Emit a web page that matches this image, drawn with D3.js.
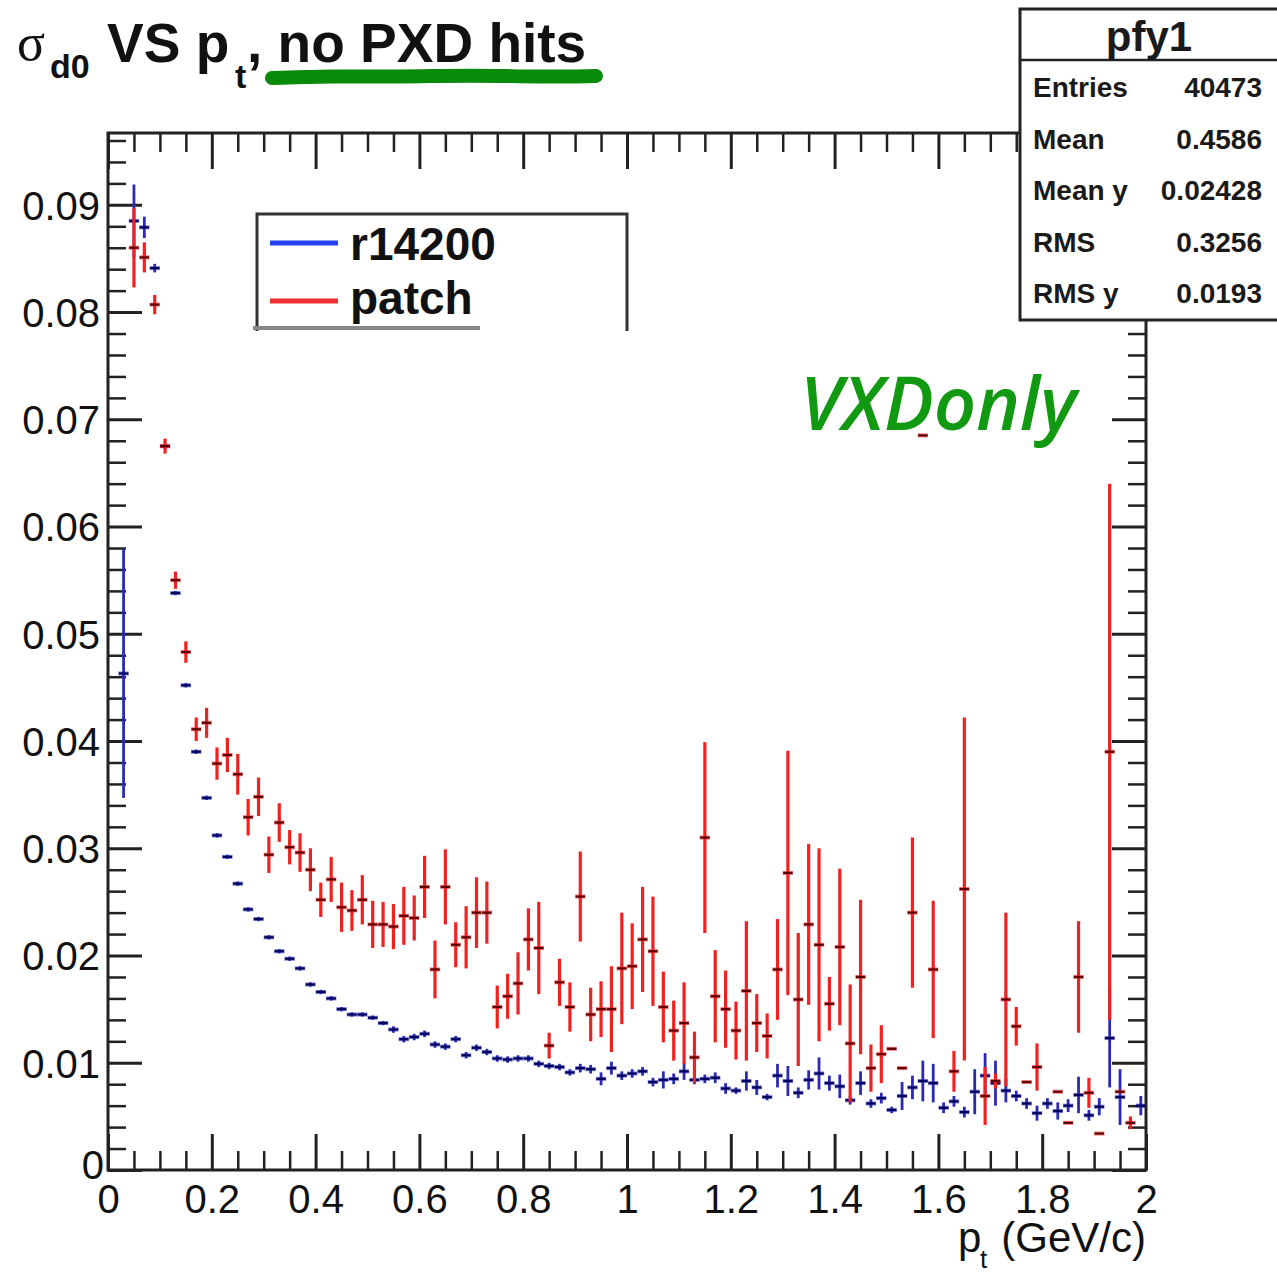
<!DOCTYPE html>
<html lang="en">

<head>
    <meta charset="utf-8">
    <title>sigma d0 vs pt</title>
    <script type="text/javascript" src="https://d3js.org/d3.v7.min.js"></script>
    <style>
        body { margin: 0; background: #fff; }
        svg { display: block; }
        .axis text { font-family: "Liberation Sans", Arial, sans-serif; font-size: 40px; fill: #111; }
        .axis line, .axis path { stroke: #222; }
    </style>
</head>

<body>
    <div id="container"></div>
    <script type="text/javascript">
        var w = 1277;
        var h = 1272;

        // binning of the profile: 100 bins of 0.02 GeV/c from 0 to 2
        var binLow = 0, binWidth = 0.02;

        // r14200 (blue) : bin means and errors, null = empty bin
        var blueMean = [null, 0.0463, 0.0885, 0.0879, 0.0841, 0.0675, 0.0538, 0.0452, 0.0390, 0.0347,
            0.0312, 0.0292, 0.0267, 0.0243, 0.0234, 0.0217, 0.0204, 0.0197, 0.0188, 0.0173,
            0.0166, 0.0160, 0.0150, 0.0145, 0.0145, 0.0142, 0.0137, 0.0131, 0.0122, 0.0124,
            0.0127, 0.0117, 0.0115, 0.0122, 0.0107, 0.0114, 0.0110, 0.0104, 0.0103, 0.0104,
            0.0104, 0.0099, 0.0097, 0.0096, 0.0091, 0.0095, 0.0094, 0.0085, 0.0095, 0.0088,
            0.0090, 0.0092, 0.0082, 0.0084, 0.0085, 0.0092, 0.0084, 0.0085, 0.0086, 0.0076,
            0.0074, 0.0083, 0.0077, 0.0068, 0.0088, 0.0083, 0.0072, 0.0084, 0.0090, 0.0081,
            0.0078, 0.0065, 0.0081, 0.0062, 0.0067, 0.0056, 0.0069, 0.0077, 0.0083, 0.0081,
            0.0058, 0.0064, 0.0054, 0.0073, 0.0088, 0.0081, 0.0074, 0.0069, 0.0062, 0.0053,
            0.0062, 0.0055, 0.0060, 0.0070, 0.0051, 0.0059, 0.0123, 0.0068, null, 0.0060];
        var blueErr = [0, 0.0116, 0.0034, 0.0010, 0.0004, 0.0003, 0.0002, 0.0002, 0.0002, 0.0002,
            0.0002, 0.0002, 0.0002, 0.0002, 0.0002, 0.0002, 0.0002, 0.0002, 0.0002, 0.0002,
            0.0002, 0.0002, 0.0002, 0.0002, 0.0002, 0.0002, 0.0002, 0.0003, 0.0003, 0.0003,
            0.0003, 0.0003, 0.0003, 0.0003, 0.0003, 0.0003, 0.0003, 0.0003, 0.0003, 0.0003,
            0.0003, 0.0003, 0.0003, 0.0003, 0.0003, 0.0004, 0.0004, 0.0006, 0.0006, 0.0004,
            0.0004, 0.0004, 0.0004, 0.0008, 0.0005, 0.0008, 0.0004, 0.0004, 0.0005, 0.0005,
            0.0003, 0.0009, 0.0007, 0.0003, 0.0011, 0.0014, 0.0005, 0.0009, 0.0015, 0.0007,
            0.0011, 0.0004, 0.0011, 0.0004, 0.0005, 0.0003, 0.0013, 0.0011, 0.0019, 0.0018,
            0.0005, 0.0005, 0.0005, 0.0021, 0.0021, 0.0021, 0.0011, 0.0005, 0.0005, 0.0007,
            0.0005, 0.0008, 0.0006, 0.0017, 0.0005, 0.0008, 0.0046, 0.0026, 0, 0.0009];

        // patch (red)
        var redMean = [null, null, 0.0860, 0.0851, 0.0807, 0.0675, 0.0550, 0.0483, 0.0411, 0.0417,
            0.0379, 0.0387, 0.0369, 0.0329, 0.0348, 0.0294, 0.0324, 0.0301, 0.0296, 0.0280,
            0.0252, 0.0271, 0.0245, 0.0242, 0.0252, 0.0229, 0.0229, 0.0227, 0.0237, 0.0235,
            0.0264, 0.0187, 0.0264, 0.0210, 0.0217, 0.0240, 0.0240, 0.0152, 0.0162, 0.0174,
            0.0215, 0.0207, 0.0116, 0.0175, 0.0152, 0.0255, 0.0145, 0.0150, 0.0150, 0.0188,
            0.0190, 0.0215, 0.0204, 0.0152, 0.0130, 0.0137, 0.0105, 0.0310, 0.0162, 0.0150,
            0.0130, 0.0167, 0.0137, 0.0125, 0.0187, 0.0277, 0.0159, 0.0229, 0.0210, 0.0155,
            0.0208, 0.0118, 0.0180, 0.0095, 0.0108, 0.0113, 0.0095, 0.0240, 0.0685, 0.0187,
            null, 0.0092, 0.0262, null, 0.0069, 0.0083, 0.0159, 0.0134, 0.0082, 0.0096,
            null, 0.0073, 0.0044, 0.0180, 0.0072, 0.0034, 0.0390, 0.0073, 0.0044, null];
        var redErr = [0, 0, 0.0037, 0.0014, 0.0009, 0.0007, 0.0008, 0.0010, 0.0011, 0.0014,
            0.0015, 0.0016, 0.0019, 0.0017, 0.0018, 0.0017, 0.0018, 0.0016, 0.0018, 0.0020,
            0.0016, 0.0021, 0.0023, 0.0019, 0.0023, 0.0022, 0.0021, 0.0021, 0.0027, 0.0021,
            0.0029, 0.0027, 0.0035, 0.0021, 0.0029, 0.0033, 0.0029, 0.0020, 0.0021, 0.0029,
            0.0029, 0.0043, 0.0012, 0.0022, 0.0023, 0.0042, 0.0025, 0.0026, 0.0040, 0.0052,
            0.0040, 0.0049, 0.0051, 0.0033, 0.0028, 0.0038, 0.0024, 0.0089, 0.0043, 0.0036,
            0.0027, 0.0065, 0.0027, 0.0021, 0.0047, 0.0114, 0.0062, 0.0075, 0.0090, 0.0025,
            0.0073, 0.0055, 0.0072, 0.0022, 0.0027, 0, 0, 0.0070, 0, 0.0064,
            0, 0.0019, 0.0160, 0, 0.0027, 0.0007, 0.0081, 0.0018, 0, 0.0022,
            0, 0, 0, 0.0052, 0.0014, 0, 0.0250, 0, 0.0006, 0];

        var seriesNames = ["r14200", "patch"];
        var xTicksMajor = [0, 0.2, 0.4, 0.6, 0.8, 1, 1.2, 1.4, 1.6, 1.8, 2];
        var yTicksMajor = [0, 0.01, 0.02, 0.03, 0.04, 0.05, 0.06, 0.07, 0.08, 0.09];
        var statsLabels = ["Entries", "Mean", "Mean y", "RMS", "RMS y"];
        var statsValues = ["40473", "0.4586", "0.02428", "0.3256", "0.0193"];

        const svg = d3.select("div#container")
            .append("svg")
            .attr("width", w)
            .attr("height", h)
            .style("background-color", "#fff");

        // plot frame in pixels
        var fLeft = 108, fRight = 1146, fTop = 133, fBottom = 1170;
        var x = d3.scaleLinear().domain([0, 2]).range([fLeft, fRight]);
        var y = d3.scaleLinear().domain([0, 0.0967]).range([fBottom, fTop]);

        var xMinor = d3.range(0, 2.0001, 0.05).filter(v => Math.abs(v / 0.2 - Math.round(v / 0.2)) > 1e-6);
        var yMinor = d3.range(0, 0.0967, 0.002).filter(v => Math.abs(v / 0.01 - Math.round(v / 0.01)) > 1e-6);

        // frame
        svg.append("rect")
            .attr("x", fLeft).attr("y", fTop)
            .attr("width", fRight - fLeft).attr("height", fBottom - fTop)
            .attr("fill", "none").attr("stroke", "#222").attr("stroke-width", 3);

        function tickAxis(axis, transform, major) {
            var g = svg.append("g").attr("class", "axis").attr("transform", transform).call(axis);
            g.select(".domain").remove();
            g.selectAll("line").attr("stroke-width", major ? 3 : 2.5);
            return g;
        }

        // bottom axis with labels
        var gx = tickAxis(d3.axisBottom(x).tickValues(xTicksMajor).tickSize(-36).tickPadding(15)
            .tickFormat(d3.format("~g")), "translate(0," + fBottom + ")", true);
        gx.selectAll("text").attr("dy", "0.71em");
        tickAxis(d3.axisBottom(x).tickValues(xMinor).tickSize(-19).tickFormat(""), "translate(0," + fBottom + ")", false);
        // top axis (ticks only)
        tickAxis(d3.axisTop(x).tickValues(xTicksMajor).tickSize(-36).tickFormat(""), "translate(0," + fTop + ")", true);
        tickAxis(d3.axisTop(x).tickValues(xMinor).tickSize(-19).tickFormat(""), "translate(0," + fTop + ")", false);

        // left axis with labels
        var gy = tickAxis(d3.axisLeft(y).tickValues(yTicksMajor).tickSize(-34).tickPadding(8)
            .tickFormat(d => d === 0 ? "0" : d3.format(".2f")(d)), "translate(" + fLeft + ",0)", true);
        gy.selectAll("text").attr("dy", "0.36em");
        gy.selectAll(".tick").filter(d => d === 0).select("text").attr("x", -4).attr("dy", "0.2em");
        tickAxis(d3.axisLeft(y).tickValues(yMinor).tickSize(-18).tickFormat(""), "translate(" + fLeft + ",0)", false);
        // right axis (ticks only)
        tickAxis(d3.axisRight(y).tickValues(yTicksMajor).tickSize(-34).tickFormat(""), "translate(" + fRight + ",0)", true);
        tickAxis(d3.axisRight(y).tickValues(yMinor).tickSize(-18).tickFormat(""), "translate(" + fRight + ",0)", false);

        // profile points
        function drawProfile(means, errs, barColor, tickColor, barWidth) {
            var pts = means.map((m, i) => ({ i: i, m: m, e: errs[i] })).filter(d => d.m !== null);
            var g = svg.append("g");
            g.selectAll("line.v")
                .data(pts.filter(d => d.e > 0))
                .enter().append("line")
                .attr("x1", d => x(binLow + (d.i + 0.5) * binWidth))
                .attr("x2", d => x(binLow + (d.i + 0.5) * binWidth))
                .attr("y1", d => y(d.m - d.e))
                .attr("y2", d => y(d.m + d.e))
                .attr("stroke", barColor)
                .attr("stroke-width", barWidth);
            g.selectAll("line.hb")
                .data(pts)
                .enter().append("line")
                .attr("x1", d => x(binLow + d.i * binWidth))
                .attr("x2", d => x(binLow + (d.i + 1) * binWidth))
                .attr("y1", d => y(d.m))
                .attr("y2", d => y(d.m))
                .attr("stroke", barColor)
                .attr("stroke-width", 4)
                .attr("opacity", 0.6);
            g.selectAll("line.h")
                .data(pts)
                .enter().append("line")
                .attr("x1", d => x(binLow + d.i * binWidth) + 0.5)
                .attr("x2", d => x(binLow + (d.i + 1) * binWidth) - 0.5)
                .attr("y1", d => y(d.m))
                .attr("y2", d => y(d.m))
                .attr("stroke", tickColor)
                .attr("stroke-width", 2.2);
        }
        drawProfile(blueMean, blueErr, "#2a2ab4", "#00005a", 2.8);
        drawProfile(redMean, redErr, "#f42020", "#5a0000", 3.2);

        // title
        var title = svg.append("g").attr("font-family", "'Liberation Sans', Arial, sans-serif")
            .attr("font-weight", "bold").attr("fill", "#111");
        title.append("text").attr("x", 17).attr("y", 60).attr("font-size", 52)
            .attr("font-weight", "normal").attr("font-family", "'Liberation Serif', serif").text("σ");
        title.append("text").attr("x", 50).attr("y", 78).attr("font-size", 34).text("d0");
        title.append("text").attr("x", 107).attr("y", 62).attr("font-size", 55).text("VS p");
        title.append("text").attr("x", 235).attr("y", 88).attr("font-size", 34).text("t");
        title.append("text").attr("x", 247).attr("y", 62).attr("font-size", 55).text(", no PXD hits");

        // green hand-drawn underline
        var under = [[272, 78], [330, 76], [400, 77], [470, 75], [540, 77], [596, 76]];
        svg.append("path")
            .attr("d", d3.line().curve(d3.curveBasis)(under))
            .attr("fill", "none")
            .attr("stroke", "#0a8a0a")
            .attr("stroke-width", 14)
            .attr("stroke-linecap", "round");

        // stats box
        var sb = svg.append("g").attr("font-family", "'Liberation Sans', Arial, sans-serif")
            .attr("font-weight", "bold").attr("fill", "#1a1a1a");
        sb.append("rect").attr("x", 1020).attr("y", 9).attr("width", 280).attr("height", 311)
            .attr("fill", "#fff").attr("stroke", "#222").attr("stroke-width", 3);
        sb.append("line").attr("x1", 1020).attr("x2", 1277).attr("y1", 60).attr("y2", 60)
            .attr("stroke", "#222").attr("stroke-width", 2.5);
        sb.append("text").attr("x", 1149).attr("y", 51).attr("font-size", 42)
            .attr("text-anchor", "middle").text("pfy1");
        sb.selectAll("text.lab").data(statsLabels).enter().append("text")
            .attr("x", 1033).attr("y", (d, i) => 97 + i * 51.6).attr("font-size", 28).text(d => d);
        sb.selectAll("text.val").data(statsValues).enter().append("text")
            .attr("x", 1262).attr("y", (d, i) => 97 + i * 51.6).attr("font-size", 28)
            .attr("text-anchor", "end").text(d => d);

        // legend (bottom edge cut in the original)
        var lg = svg.append("g");
        lg.append("rect").attr("x", 257).attr("y", 214).attr("width", 370).attr("height", 116).attr("fill", "#fff");
        lg.append("path").attr("d", "M257,331V214H627V331").attr("fill", "none")
            .attr("stroke", "#333").attr("stroke-width", 3);
        lg.append("rect").attr("x", 253).attr("y", 326).attr("width", 227).attr("height", 4).attr("fill", "#888");
        var legColors = ["#2040f0", "#f03030"];
        seriesNames.forEach(function (name, i) {
            lg.append("line").attr("x1", 270).attr("x2", 338)
                .attr("y1", 243 + i * 58).attr("y2", 243 + i * 58)
                .attr("stroke", legColors[i]).attr("stroke-width", 5);
            lg.append("text").attr("x", 350).attr("y", 260 + i * 54)
                .attr("font-family", "'Liberation Sans', Arial, sans-serif")
                .attr("font-weight", "bold").attr("font-size", 46).attr("fill", "#111").text(name);
        });

        // VXDonly label
        svg.append("text").attr("x", 800).attr("y", 430)
            .attr("font-family", "'Open Sans', 'Liberation Sans', sans-serif")
            .attr("font-style", "italic").attr("font-weight", 600)
            .attr("font-size", 74).attr("fill", "#119911").text("VXDonly");

        // x axis title
        var xt = svg.append("g").attr("font-family", "'Liberation Sans', Arial, sans-serif").attr("fill", "#111");
        xt.append("text").attr("x", 958).attr("y", 1252).attr("font-size", 42).text("p");
        xt.append("text").attr("x", 980).attr("y", 1268).attr("font-size", 26).text("t");
        xt.append("text").attr("x", 1146).attr("y", 1252).attr("font-size", 42)
            .attr("text-anchor", "end").text("(GeV/c)");
    </script>
</body>

</html>
